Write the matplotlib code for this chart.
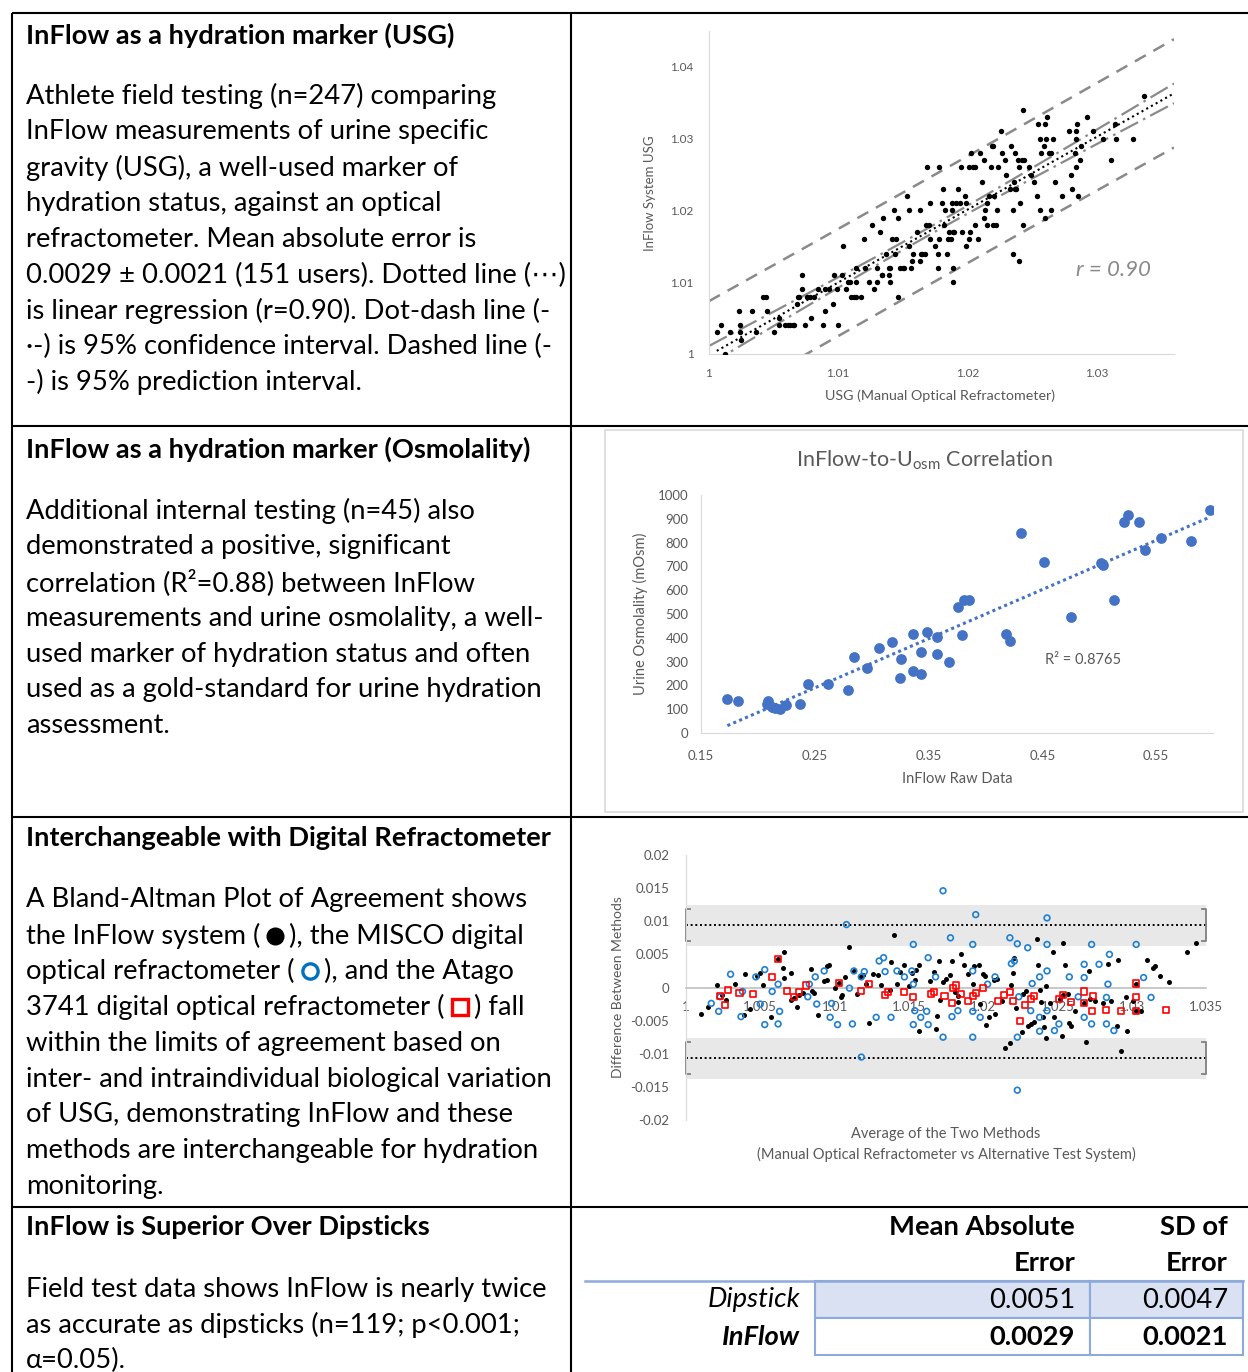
import numpy as np
import matplotlib
matplotlib.use('Agg')
import matplotlib.pyplot as plt
from matplotlib.patches import Rectangle

plt.rcParams['font.family'] = ['Lato', 'DejaVu Sans']
plt.rcParams['mathtext.default'] = 'regular'

W, H = 1248, 1372
GRAY = '#595959'
AXC = '#d9d9d9'

# ---------------- panel 1: USG, InFlow vs optical refractometer ----------------
usg_ref = [
    1.0006, 1.0009, 1.0012, 1.0016, 1.0023, 1.0024, 1.0024, 1.0025, 1.0033, 1.0036,
    1.0042, 1.0044, 1.0045, 1.0050, 1.0054, 1.0054, 1.0059, 1.0061, 1.0063, 1.0065,
    1.0066, 1.0068, 1.0069, 1.0070, 1.0072, 1.0072, 1.0074, 1.0076, 1.0078, 1.0079,
    1.0081, 1.0084, 1.0088, 1.0090, 1.0090, 1.0093, 1.0096, 1.0097, 1.0099, 1.0100,
    1.0103, 1.0104, 1.0106, 1.0108, 1.0109, 1.0110, 1.0112, 1.0114, 1.0114, 1.0114,
    1.0118, 1.0120, 1.0121, 1.0124, 1.0126, 1.0128, 1.0130, 1.0130, 1.0132, 1.0134,
    1.0134, 1.0135, 1.0137, 1.0139, 1.0139, 1.0140, 1.0140, 1.0142, 1.0143, 1.0144,
    1.0145, 1.0146, 1.0146, 1.0148, 1.0150, 1.0151, 1.0153, 1.0155, 1.0155, 1.0156,
    1.0157, 1.0158, 1.0161, 1.0163, 1.0163, 1.0164, 1.0165, 1.0167, 1.0168, 1.0169,
    1.0170, 1.0171, 1.0171, 1.0175, 1.0177, 1.0177, 1.0178, 1.0178, 1.0180, 1.0181,
    1.0182, 1.0183, 1.0184, 1.0185, 1.0186, 1.0187, 1.0188, 1.0188, 1.0189, 1.0189,
    1.0189, 1.0190, 1.0191, 1.0193, 1.0194, 1.0195, 1.0196, 1.0198, 1.0199, 1.0199,
    1.0201, 1.0201, 1.0202, 1.0203, 1.0204, 1.0206, 1.0206, 1.0208, 1.0210, 1.0211,
    1.0213, 1.0213, 1.0214, 1.0215, 1.0215, 1.0217, 1.0218, 1.0219, 1.0220, 1.0220,
    1.0221, 1.0222, 1.0223, 1.0224, 1.0226, 1.0227, 1.0229, 1.0230, 1.0233, 1.0234,
    1.0235, 1.0235, 1.0236, 1.0237, 1.0237, 1.0238, 1.0239, 1.0240, 1.0240, 1.0241,
    1.0242, 1.0243, 1.0243, 1.0244, 1.0248, 1.0249, 1.0252, 1.0254, 1.0255, 1.0256,
    1.0256, 1.0257, 1.0259, 1.0260, 1.0260, 1.0261, 1.0262, 1.0263, 1.0265, 1.0265,
    1.0266, 1.0268, 1.0273, 1.0279, 1.0280, 1.0281, 1.0283, 1.0284, 1.0284, 1.0284,
    1.0285, 1.0286, 1.0287, 1.0288, 1.0293, 1.0297, 1.0305, 1.0311, 1.0314, 1.0315,
    1.0328, 1.0337]
usg_inflow = [
    1.003, 1.004, 1.000, 1.003, 1.006, 1.004, 1.003, 1.002, 1.006, 1.003,
    1.008, 1.008, 1.006, 1.003, 1.004, 1.005, 1.004, 1.004, 1.004, 1.004,
    1.004, 1.007, 1.008, 1.008, 1.009, 1.011, 1.004, 1.008, 1.008, 1.005,
    1.008, 1.009, 1.004, 1.009, 1.006, 1.009, 1.007, 1.011, 1.009, 1.004,
    1.011, 1.015, 1.009, 1.010, 1.010, 1.008, 1.008, 1.008, 1.012, 1.010,
    1.008, 1.016, 1.012, 1.010, 1.018, 1.009, 1.010, 1.012, 1.017, 1.011,
    1.011, 1.019, 1.014, 1.012, 1.011, 1.010, 1.012, 1.016, 1.020, 1.014,
    1.016, 1.019, 1.008, 1.012, 1.012, 1.012, 1.022, 1.020, 1.015, 1.012,
    1.013, 1.014, 1.017, 1.020, 1.013, 1.014, 1.014, 1.014, 1.018, 1.026,
    1.018, 1.021, 1.016, 1.015, 1.012, 1.014, 1.026, 1.016, 1.021, 1.023,
    1.018, 1.020, 1.014, 1.016, 1.017, 1.016, 1.020, 1.021, 1.017, 1.012,
    1.010, 1.017, 1.021, 1.023, 1.021, 1.026, 1.017, 1.022, 1.021, 1.015,
    1.026, 1.016, 1.017, 1.028, 1.026, 1.026, 1.018, 1.016, 1.028, 1.024,
    1.019, 1.027, 1.020, 1.021, 1.018, 1.022, 1.026, 1.029, 1.018, 1.029,
    1.022, 1.018, 1.020, 1.026, 1.031, 1.028, 1.027, 1.025, 1.023, 1.029,
    1.020, 1.014, 1.024, 1.023, 1.028, 1.023, 1.027, 1.026, 1.013, 1.021,
    1.027, 1.018, 1.034, 1.027, 1.026, 1.025, 1.024, 1.022, 1.032, 1.030,
    1.020, 1.028, 1.029, 1.032, 1.019, 1.030, 1.033, 1.028, 1.028, 1.020,
    1.030, 1.024, 1.022, 1.031, 1.025, 1.023, 1.028, 1.030, 1.031, 1.026,
    1.032, 1.022, 1.027, 1.029, 1.033, 1.031, 1.030, 1.027, 1.032, 1.030,
    1.030, 1.036]
usg_ticks = [1.0, 1.01, 1.02, 1.03, 1.04]
usg_ticklabels = ['1', '1.01', '1.02', '1.03', '1.04']

# ---------------- panel 2: InFlow raw vs urine osmolality ----------------
raw_data = [0.1732, 0.1829, 0.2093, 0.2079, 0.2123, 0.2152, 0.2196, 0.2249, 0.2372, 0.2440,
            0.2613, 0.2792, 0.2842, 0.2957, 0.3062, 0.3180, 0.3253, 0.3262, 0.3362, 0.3365,
            0.3430, 0.3435, 0.3488, 0.3576, 0.3576, 0.3679, 0.3756, 0.3811, 0.3858, 0.3794,
            0.4181, 0.4220, 0.4311, 0.4516, 0.4751, 0.5015, 0.5036, 0.5133, 0.5221, 0.5253,
            0.5350, 0.5406, 0.5541, 0.5808, 0.5970]
osm = [143, 133, 136, 122, 111, 106, 102, 116, 122, 204,
       207, 182, 318, 275, 357, 381, 231, 311, 260, 417,
       246, 342, 424, 402, 333, 300, 531, 560, 557, 410,
       417, 388, 839, 717, 489, 714, 706, 557, 885, 915,
       888, 770, 821, 807, 936]
raw_ticks = [0.15, 0.25, 0.35, 0.45, 0.55]
osm_ticks = [0, 100, 200, 300, 400, 500, 600, 700, 800, 900, 1000]

# ---------------- panel 3: Bland-Altman ----------------
ba_inflow_avg = [
    1.0010, 1.0015, 1.0021, 1.0024, 1.0027, 1.0033, 1.0039, 1.0040, 1.0043, 1.0048,
    1.0050, 1.0052, 1.0057, 1.0062, 1.0065, 1.0066, 1.0066, 1.0071, 1.0071, 1.0073,
    1.0075, 1.0076, 1.0079, 1.0084, 1.0085, 1.0086, 1.0089, 1.0093, 1.0095, 1.0095,
    1.0096, 1.0100, 1.0103, 1.0104, 1.0105, 1.0107, 1.0110, 1.0113, 1.0115, 1.0117,
    1.0119, 1.0121, 1.0123, 1.0126, 1.0129, 1.0131, 1.0137, 1.0138, 1.0140, 1.0142,
    1.0144, 1.0147, 1.0150, 1.0152, 1.0154, 1.0155, 1.0157, 1.0157, 1.0164, 1.0167,
    1.0168, 1.0169, 1.0170, 1.0171, 1.0173, 1.0175, 1.0178, 1.0179, 1.0181, 1.0183,
    1.0183, 1.0185, 1.0187, 1.0190, 1.0193, 1.0194, 1.0197, 1.0198, 1.0200, 1.0201,
    1.0202, 1.0204, 1.0207, 1.0208, 1.0209, 1.0213, 1.0215, 1.0218, 1.0219, 1.0220,
    1.0221, 1.0222, 1.0226, 1.0227, 1.0229, 1.0230, 1.0232, 1.0234, 1.0236, 1.0237,
    1.0238, 1.0239, 1.0240, 1.0241, 1.0242, 1.0242, 1.0245, 1.0247, 1.0248, 1.0252,
    1.0253, 1.0254, 1.0254, 1.0255, 1.0257, 1.0258, 1.0259, 1.0262, 1.0268, 1.0269,
    1.0271, 1.0272, 1.0275, 1.0281, 1.0284, 1.0286, 1.0290, 1.0291, 1.0293, 1.0296,
    1.0297, 1.0301, 1.0303, 1.0303, 1.0306, 1.0310, 1.0314, 1.0316, 1.0319, 1.0325,
    1.0337, 1.0343]
ba_inflow_diff = [
    -0.0040, -0.0030, 0.0004, -0.0011, -0.0019, 0.0006, -0.0041, 0.0021, -0.0033, 0.0018,
    0.0022, 0.0004, -0.0045, 0.0043, 0.0030, 0.0014, 0.0054, 0.0022, -0.0019, -0.0016,
    -0.0029, -0.0011, -0.0008, 0.0028, -0.0006, -0.0009, -0.0042, 0.0010, 0.0012, 0.0032,
    0.0034, -0.0001, 0.0007, -0.0015, -0.0012, 0.0016, 0.0061, 0.0025, -0.0010, 0.0016,
    0.0019, 0.0005, -0.0053, 0.0021, 0.0019, 0.0004, -0.0004, 0.0038, 0.0080, 0.0005,
    0.0024, 0.0034, 0.0002, 0.0022, 0.0012, 0.0027, 0.0034, -0.0066, 0.0010, 0.0024,
    -0.0062, -0.0043, 0.0040, -0.0019, 0.0009, 0.0013, 0.0019, 0.0040, -0.0007, -0.0013,
    -0.0022, 0.0051, 0.0034, 0.0021, 0.0006, 0.0033, 0.0034, -0.0025, 0.0021, 0.0018,
    -0.0056, -0.0045, 0.0011, -0.0040, 0.0013, -0.0021, -0.0091, -0.0084, 0.0004, 0.0022,
    0.0044, -0.0031, -0.0067, -0.0010, -0.0006, -0.0058, -0.0055, -0.0052, 0.0073, 0.0034,
    -0.0004, -0.0022, -0.0044, -0.0059, 0.0002, -0.0076, -0.0023, 0.0053, -0.0044, -0.0018,
    -0.0073, 0.0067, -0.0012, 0.0034, -0.0010, -0.0053, -0.0058, -0.0036, -0.0024, -0.0082,
    0.0025, -0.0017, -0.0020, -0.0023, 0.0035, -0.0020, -0.0058, 0.0042, -0.0096, -0.0014,
    -0.0066, -0.0021, 0.0006, -0.0035, -0.0036, 0.0041, 0.0030, 0.0033, 0.0018, 0.0009,
    0.0054, 0.0067]
ba_misco_avg = [
    1.0017, 1.0022, 1.0023, 1.0030, 1.0037, 1.0038, 1.0047, 1.0050, 1.0053, 1.0053,
    1.0058, 1.0062, 1.0063, 1.0062, 1.0082, 1.0083, 1.0087, 1.0088, 1.0093, 1.0097,
    1.0098, 1.0102, 1.0108, 1.0110, 1.0112, 1.0113, 1.0118, 1.0118, 1.0120, 1.0128,
    1.0130, 1.0133, 1.0134, 1.0138, 1.0142, 1.0147, 1.0152, 1.0153, 1.0153, 1.0153,
    1.0154, 1.0158, 1.0162, 1.0163, 1.0163, 1.0168, 1.0173, 1.0173, 1.0178, 1.0179,
    1.0183, 1.0193, 1.0193, 1.0193, 1.0193, 1.0195, 1.0198, 1.0203, 1.0208, 1.0218,
    1.0219, 1.0221, 1.0223, 1.0223, 1.0223, 1.0224, 1.0230, 1.0232, 1.0233, 1.0238,
    1.0238, 1.0238, 1.0243, 1.0243, 1.0243, 1.0243, 1.0248, 1.0251, 1.0258, 1.0264,
    1.0268, 1.0268, 1.0268, 1.0273, 1.0273, 1.0278, 1.0283, 1.0283, 1.0284, 1.0285,
    1.0288, 1.0303, 1.0308, 1.0313]
ba_misco_diff = [
    -0.0024, -0.0036, -0.0014, 0.0020, -0.0044, -0.0006, 0.0016, -0.0025, -0.0056, 0.0027,
    -0.0006, -0.0055, -0.0036, 0.0005, -0.0014, 0.0005, 0.0016, -0.0025, 0.0025, -0.0045,
    -0.0024, -0.0056, 0.0095, -0.0001, -0.0055, 0.0025, -0.0105, 0.0016, 0.0024, -0.0045,
    0.0040, 0.0045, 0.0024, -0.0045, 0.0025, 0.0016, 0.0025, 0.0065, 0.0005, -0.0056,
    -0.0035, -0.0045, -0.0036, -0.0056, 0.0045, 0.0016, 0.0146, -0.0075, 0.0075, -0.0044,
    -0.0035, 0.0065, 0.0025, -0.0036, -0.0075, 0.0110, -0.0045, 0.0005, 0.0016, 0.0075,
    0.0036, 0.0040, 0.0066, -0.0075, -0.0155, -0.0014, 0.0060, -0.0035, 0.0006, -0.0066,
    -0.0045, 0.0016, 0.0105, 0.0025, 0.0065, -0.0035, -0.0065, -0.0055, 0.0016, -0.0014,
    0.0035, 0.0015, -0.0045, 0.0065, -0.0055, 0.0035, -0.0015, -0.0055, 0.0005, 0.0050,
    -0.0065, 0.0065, 0.0015, -0.0015]
ba_atago_avg = [
    1.0023, 1.0026, 1.0028, 1.0036, 1.0045, 1.0058, 1.0062, 1.0068, 1.0073, 1.0076,
    1.0081, 1.0103, 1.0118, 1.0123, 1.0134, 1.0136, 1.0147, 1.0153, 1.0165, 1.0167,
    1.0174, 1.0179, 1.0180, 1.0182, 1.0185, 1.0190, 1.0193, 1.0195, 1.0200, 1.0210,
    1.0214, 1.0218, 1.0220, 1.0225, 1.0228, 1.0232, 1.0234, 1.0251, 1.0254, 1.0259,
    1.0268, 1.0268, 1.0273, 1.0274, 1.0283, 1.0293, 1.0303, 1.0303, 1.0303, 1.0323]
ba_atago_diff = [
    -0.0013, -0.0026, -0.0004, -0.0009, -0.0010, 0.0016, 0.0043, -0.0005, -0.0015, -0.0007,
    0.0003, 0.0007, -0.0005, 0.0005, -0.0012, -0.0007, -0.0007, -0.0015, -0.0010, -0.0007,
    -0.0013, -0.0023, -0.0001, 0.0003, -0.0010, -0.0020, -0.0013, -0.0009, -0.0001, -0.0021,
    -0.0012, -0.0007, -0.0020, -0.0050, -0.0026, -0.0017, -0.0013, -0.0018, -0.0012, -0.0022,
    -0.0006, -0.0024, -0.0035, -0.0013, -0.0034, -0.0036, 0.0006, -0.0015, -0.0035, -0.0034]
loa_upper = 0.0094
loa_lower = -0.0107
loa_band = 0.0031     # shaded range around each limit
loa_ci = 0.0024       # bracket half height
ba_xticks = [1.0, 1.005, 1.01, 1.015, 1.02, 1.025, 1.03, 1.035]
ba_xticklabels = ['1', '1.005', '1.01', '1.015', '1.02', '1.025', '1.03', '1.035']
ba_yticks = [-0.02, -0.015, -0.01, -0.005, 0, 0.005, 0.01, 0.015, 0.02]
ba_yticklabels = ['-0.02', '-0.015', '-0.01', '-0.005', '0', '0.005', '0.01', '0.015', '0.02']

# ---------------- panel 4: table ----------------
table_rows = ['Dipstick', 'InFlow']
table_mae = ['0.0051', '0.0029']
table_sd = ['0.0047', '0.0021']


def box(x0, y0, x1, y1):
    return [x0 / W, 1 - y1 / H, (x1 - x0) / W, (y1 - y0) / H]


fig = plt.figure(figsize=(W / 100, H / 100), dpi=100)
ov = fig.add_axes([0, 0, 1, 1])
ov.set_xlim(0, W)
ov.set_ylim(H, 0)
ov.axis('off')
rend = fig.canvas.get_renderer()


def fit_size(txt, target, weight='normal', base=17.0):
    t = ov.text(0, 0, txt, fontsize=base, fontweight=weight)
    w = t.get_window_extent(renderer=rend).width
    t.remove()
    return base * target / w


BODY = fit_size('inter- and intraindividual biological variation', 528)
TITLE = fit_size('Interchangeable with Digital Refractometer', 528, 'bold')

# outer grid of the layout table
for yy in [13, 426, 817, 1207]:
    ov.plot([12, W], [yy, yy], color='black', lw=1.5, solid_capstyle='butt')
for xx in [12, 571]:
    ov.plot([xx, xx], [13, H], color='black', lw=1.5, solid_capstyle='butt')


def para(title, y_title, lines, y0, step=35.8):
    ov.text(26, y_title, title, fontsize=TITLE, fontweight='bold', va='center')
    for i, ln in enumerate(lines):
        if ln:
            ov.text(26, y0 + i * step, ln, fontsize=BODY, va='center')


para('InFlow as a hydration marker (USG)', 35, [
    'Athlete field testing (n=247) comparing',
    'InFlow measurements of urine specific',
    'gravity (USG), a well-used marker of',
    'hydration status, against an optical',
    'refractometer. Mean absolute error is',
    '0.0029 \u00b1 0.0021 (151 users). Dotted line (\u22ef)',
    'is linear regression (r=0.90). Dot-dash line (-',
    '\u00b7-) is 95% confidence interval. Dashed line (-',
    '-) is 95% prediction interval.'], 96)

para('InFlow as a hydration marker (Osmolality)', 449, [
    'Additional internal testing (n=45) also',
    'demonstrated a positive, significant',
    'correlation (R\u00b2=0.88) between InFlow',
    'measurements and urine osmolality, a well-',
    'used marker of hydration status and often',
    'used as a gold-standard for urine hydration',
    'assessment.'], 511)

para('Interchangeable with Digital Refractometer', 838, [
    'A Bland-Altman Plot of Agreement shows',
    '', '', '',
    'within the limits of agreement based on',
    'inter- and intraindividual biological variation',
    'of USG, demonstrating InFlow and these',
    'methods are interchangeable for hydration',
    'monitoring.'], 900)


def inline(y, before, after, mk):
    t = ov.text(26, y, before, fontsize=BODY, va='center')
    x1 = t.get_window_extent(renderer=rend).x1
    mx = x1 + 15
    ov.plot([mx], [y], **mk)
    ov.text(mx + 14, y, after, fontsize=BODY, va='center')


inline(936, 'the InFlow system (', '), the MISCO digital',
       dict(marker='o', ms=12, color='black', ls='none'))
inline(971, 'optical refractometer (', '), and the Atago',
       dict(marker='o', ms=11, mfc='none', mec='#0070C0', mew=2.4, ls='none'))
inline(1007, '3741 digital optical refractometer (', ') fall',
       dict(marker='s', ms=11, mfc='none', mec='#FF0000', mew=2.4, ls='none'))

para('InFlow is Superior Over Dipsticks', 1227, [
    'Field test data shows InFlow is nearly twice',
    'as accurate as dipsticks (n=119; p<0.001;',
    '\u03b1=0.05).'], 1289)

# ---------------- panel 1 ----------------
ax1 = fig.add_axes(box(709, 31, 1174, 354))
x = np.array(usg_ref)
y = np.array(usg_inflow)
b, a = np.polyfit(x, y, 1)
n = len(x)
s = np.sqrt(np.sum((y - (a + b * x)) ** 2) / (n - 2))
sxx = np.sum((x - x.mean()) ** 2)
xs = np.linspace(1.0, 1.036, 300)
fit = a + b * xs
ci = 1.97 * s * np.sqrt(1 / n + (xs - x.mean()) ** 2 / sxx)
pi = 1.97 * s * np.sqrt(1 + 1 / n + (xs - x.mean()) ** 2 / sxx)
ax1.scatter(x, y, s=15, color='black', linewidths=0, zorder=3)
m = xs >= x.min()
ax1.plot(xs[m], fit[m], color='black', lw=1.5, linestyle=(0, (1, 1.6)), zorder=4)
for sgn in (1, -1):
    ax1.plot(xs, fit + sgn * ci, color='#8a8a8a', lw=1.6, dashes=(9, 2.5, 1.2, 2.5), zorder=2)
    ax1.plot(xs, fit + sgn * pi, color='#8a8a8a', lw=1.8, dashes=(5, 3.5), zorder=2)
ax1.set_xlim(1.0, 1.036)
ax1.set_ylim(1.0, 1.045)
ax1.set_xticks(usg_ticks[:4])
ax1.set_xticklabels(usg_ticklabels[:4])
ax1.set_yticks(usg_ticks)
ax1.set_yticklabels(usg_ticklabels)
for sp in ['top', 'right']:
    ax1.spines[sp].set_visible(False)
for sp in ['left', 'bottom']:
    ax1.spines[sp].set_color(AXC)
ax1.tick_params(length=0, labelsize=8.5, labelcolor=GRAY)
ax1.tick_params(axis='y', pad=11)
ax1.tick_params(axis='x', pad=10)
ax1.patch.set_alpha(0)
ov.text(650, 193, 'InFlow System USG', rotation=90, fontsize=9.5, color=GRAY, ha='center', va='center')
ov.text(940, 396, 'USG (Manual Optical Refractometer)', fontsize=10.3, color=GRAY, ha='center', va='center')
ov.text(1113, 270, 'r = 0.90', fontsize=16, style='italic', color='#8a8a8a', ha='center', va='center')

# ---------------- panel 2 ----------------
ov.add_patch(Rectangle((605, 430), 638, 382, fill=False, ec=AXC, lw=1.2))
ax2 = fig.add_axes(box(701, 495, 1213, 733))
rx = np.array(raw_data)
oy = np.array(osm)
b2, a2 = np.polyfit(rx, oy, 1)
xs2 = np.linspace(rx.min(), rx.max(), 100)
ax2.plot(xs2, a2 + b2 * xs2, color='#4472C4', lw=2.2, linestyle=(0, (1, 1.1)), zorder=2)
ax2.scatter(rx, oy, s=60, color='#4472C4', linewidths=0, zorder=3)
ax2.set_xlim(0.15, 0.6)
ax2.set_ylim(0, 1000)
ax2.set_xticks(raw_ticks)
ax2.set_xticklabels(['%.2f' % v for v in raw_ticks])
ax2.set_yticks(osm_ticks)
for sp in ['top', 'right']:
    ax2.spines[sp].set_visible(False)
for sp in ['left', 'bottom']:
    ax2.spines[sp].set_color(AXC)
ax2.tick_params(length=0, labelsize=9.5, labelcolor=GRAY)
ax2.tick_params(axis='y', pad=9)
ax2.tick_params(axis='x', pad=12)
ax2.patch.set_alpha(0)
ov.text(924, 460, 'InFlow-to-U$_{osm}$ Correlation', fontsize=15.5, color=GRAY, ha='center', va='center')
ov.text(640, 614, 'Urine Osmolality (mOsm)', rotation=90, fontsize=10.5, color=GRAY, ha='center', va='center')
ov.text(957, 779, 'InFlow Raw Data', fontsize=10.5, color=GRAY, ha='center', va='center')
ov.text(1083, 660, 'R\u00b2 = 0.8765', fontsize=10.5, color=GRAY, ha='center', va='center')

# ---------------- panel 3 ----------------
ax3 = fig.add_axes(box(686, 855, 1206, 1120))
x0, x1 = ba_xticks[0], ba_xticks[-1]
for lim in (loa_upper, loa_lower):
    ax3.fill_between([x0, x1], lim - loa_band, lim + loa_band, color='#e8e8e8', lw=0, zorder=0)
    ax3.plot([x0, x1], [lim, lim], color='black', lw=1.4, linestyle=(0, (1, 1.4)), zorder=1)
    dx = 0.0003
    ax3.plot([x0 + dx, x0, x0, x0 + dx], [lim + loa_ci, lim + loa_ci, lim - loa_ci, lim - loa_ci],
             color='#7f7f7f', lw=1.3, clip_on=False, zorder=1)
    ax3.plot([x1 - dx, x1, x1, x1 - dx], [lim + loa_ci, lim + loa_ci, lim - loa_ci, lim - loa_ci],
             color='#7f7f7f', lw=1.3, clip_on=False, zorder=1)
ax3.scatter(ba_inflow_avg, ba_inflow_diff, s=13, color='black', linewidths=0, zorder=3)
ax3.scatter(ba_misco_avg, ba_misco_diff, s=17, facecolors='none', edgecolors='#1f7fd0', linewidths=1.2, zorder=4)
ax3.scatter(ba_atago_avg, ba_atago_diff, s=19, marker='s', facecolors='none', edgecolors='#ff0000', linewidths=1.2, zorder=5)
ax3.set_xlim(x0, x1)
ax3.set_ylim(-0.02, 0.02)
ax3.set_xticks(ba_xticks)
ax3.set_xticklabels(ba_xticklabels)
ax3.set_yticks(ba_yticks)
ax3.set_yticklabels(ba_yticklabels)
for sp in ['top', 'right']:
    ax3.spines[sp].set_visible(False)
ax3.spines['bottom'].set_position(('data', 0))
ax3.spines['bottom'].set_color('#bfbfbf')
ax3.spines['bottom'].set_linewidth(1.2)
ax3.spines['left'].set_color(AXC)
ax3.tick_params(length=0, labelsize=9.5, labelcolor=GRAY)
ax3.tick_params(axis='y', pad=12)
ax3.tick_params(axis='x', pad=10)
ax3.patch.set_alpha(0)
ov.text(618, 987, 'Difference Between Methods', rotation=90, fontsize=10, color=GRAY, ha='center', va='center')
ov.text(946, 1134, 'Average of the Two Methods', fontsize=10.5, color=GRAY, ha='center', va='center')
ov.text(946, 1154, '(Manual Optical Refractometer vs Alternative Test System)', fontsize=10.5,
        color=GRAY, ha='center', va='center')

# ---------------- panel 4: table ----------------
ov.text(1075, 1227, 'Mean Absolute', fontsize=BODY, fontweight='bold', ha='right', va='center')
ov.text(1075, 1263, 'Error', fontsize=BODY, fontweight='bold', ha='right', va='center')
ov.text(1228, 1227, 'SD of', fontsize=BODY, fontweight='bold', ha='right', va='center')
ov.text(1228, 1263, 'Error', fontsize=BODY, fontweight='bold', ha='right', va='center')
row_top = [1281, 1318]
fills = ['#D9E1F2', 'white']
for i, name in enumerate(table_rows):
    yt = row_top[i]
    ov.add_patch(Rectangle((815, yt), 275, 37, fc=fills[i], ec='#8EA9DB', lw=1.5))
    ov.add_patch(Rectangle((1090, yt), 153, 37, fc=fills[i], ec='#8EA9DB', lw=1.5))
    wt = 'bold' if i == 1 else 'normal'
    ov.text(800, yt + 19, name, fontsize=BODY, style='italic', fontweight=wt, ha='right', va='center')
    ov.text(1075, yt + 19, table_mae[i], fontsize=BODY, fontweight=wt, ha='right', va='center')
    ov.text(1228, yt + 19, table_sd[i], fontsize=BODY, fontweight=wt, ha='right', va='center')
ov.plot([585, 1243], [1281, 1281], color='#8EA9DB', lw=1.8)

fig.savefig('out.png', dpi=100)
